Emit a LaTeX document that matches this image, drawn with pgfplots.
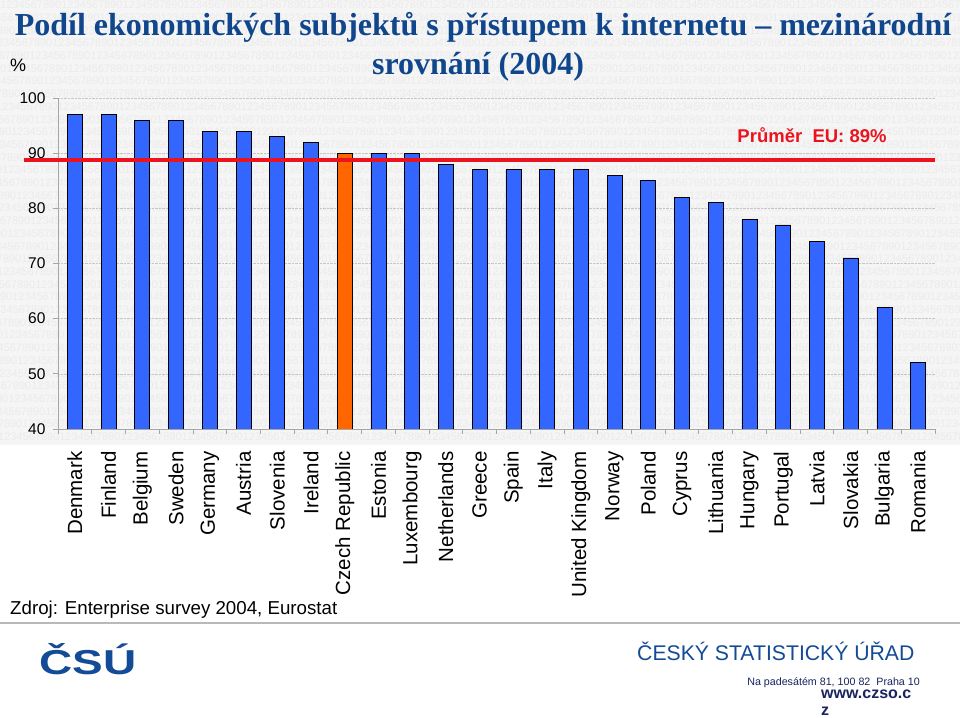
\documentclass[border=0pt]{standalone}
\usepackage{fontspec}
\usepackage{graphicx}
\setmainfont{Liberation Sans}
\newfontfamily\titlefont{Liberation Serif}
\usepackage{pgfplots}
\pgfplotsset{compat=1.18}
\definecolor{barblue}{RGB}{51,102,255}
\definecolor{barorange}{RGB}{255,102,0}
\definecolor{eured}{RGB}{235,20,30}
\definecolor{titleblue}{RGB}{16,70,140}
\definecolor{csublue}{RGB}{20,75,150}
\definecolor{navy}{RGB}{25,35,95}
\definecolor{bgray}{RGB}{245,245,245}
\definecolor{wmgray}{RGB}{235,235,235}
\def\wm{1234567890}
\def\wmrow{\wm\wm\wm\wm\wm\wm\wm\wm\wm\wm\wm\wm\wm\wm\wm\wm\wm\wm}
\begin{document}
\begin{tikzpicture}
\useasboundingbox (0pt,0pt) rectangle (960pt,717pt);
\fill[white] (0pt,0pt) rectangle (960pt,717pt);
\begin{scope}
\clip (0pt,272pt) rectangle (960pt,717pt);
\fill[bgray] (0pt,272pt) rectangle (960pt,717pt);
\foreach \i in {0,...,35}{
  \pgfmathsetmacro{\xs}{-mod(\i*23,60)}
  \pgfmathsetmacro{\ys}{712-12.7*\i}
  \node[anchor=west,inner sep=0pt,text=wmgray,font=\fontsize{11}{11}\selectfont] at (\xs pt,\ys pt) {\wmrow};
}
\end{scope}
\draw[gray!55,line width=1.5pt] (0pt,94pt) -- (960pt,94pt);

\begin{axis}[
  at={(58pt,288pt)}, anchor=south west,
  width=877pt, height=331pt, scale only axis,
  xmin=-0.5, xmax=25.5, ymin=40, ymax=100,
  ytick={40,50,...,100},
  axis x line*=bottom, axis y line*=left,
  axis line style={gray!70, line width=0.8pt},
  tick align=outside,
  major tick length=5pt, minor tick length=5pt,
  tick style={gray!70, line width=0.8pt},
  ymajorgrids, grid style={densely dotted, gray!45, line width=0.6pt},
  xtick={0,...,25},
  major x tick style={draw=none},
  minor xtick={-0.5,0.5,1.5,2.5,3.5,4.5,5.5,6.5,7.5,8.5,9.5,10.5,11.5,12.5,13.5,14.5,15.5,16.5,17.5,18.5,19.5,20.5,21.5,22.5,23.5,24.5,25.5},
  xticklabels={Denmark,Finland,Belgium,Sweden,Germany,Austria,Slovenia,Ireland,Czech Republic,Estonia,Luxembourg,Netherlands,Greece,Spain,Italy,United Kingdom,Norway,Poland,Cyprus,Lithuania,Hungary,Portugal,Latvia,Slovakia,Bulgaria,Romania},
  xticklabel style={rotate=90, anchor=east, font=\fontsize{20.5}{21}\selectfont, xshift=-14pt},
  yticklabel style={font=\fontsize{15.5}{16}\selectfont, xshift=-4pt},
  /pgf/number format/assume math mode=true,
]
\addplot[ybar, bar width=15pt, bar shift=0pt, fill=barblue, draw=black, line width=0.7pt] coordinates {
(0,97) (1,97) (2,96) (3,96) (4,94) (5,94) (6,93) (7,92)
(9,90) (10,90) (11,88) (12,87) (13,87) (14,87) (15,87) (16,86)
(17,85) (18,82) (19,81) (20,78) (21,77) (22,74) (23,71) (24,62) (25,52)
};
\addplot[ybar, bar width=15pt, bar shift=0pt, fill=barorange, draw=black, line width=0.7pt] coordinates {(8,90)};
\end{axis}

\begin{axis}[
  at={(58pt,288pt)}, anchor=south west,
  width=877pt, height=331pt, scale only axis,
  xmin=-0.5, xmax=25.5, ymin=40, ymax=100,
  hide axis, clip=false,
]
\addplot[eured, line width=4pt] coordinates {(-1.5,88.7) (25.5,88.7)};
\end{axis}

\node[anchor=base, text=titleblue, font=\titlefont\bfseries\fontsize{32}{36}\selectfont, inner sep=0pt] at (483pt,681pt) {Podíl ekonomických subjektů s přístupem k internetu – mezinárodní};
\node[anchor=base, text=titleblue, font=\titlefont\bfseries\fontsize{32}{36}\selectfont, inner sep=0pt] at (478pt,642pt) {srovnání (2004)};
\node[anchor=base west, inner sep=0pt, font=\fontsize{18}{18}\selectfont] at (10pt,645pt) {\%};
\node[anchor=base, inner sep=0pt, text=eured, font=\bfseries\fontsize{18.5}{19}\selectfont] at (812pt,574pt) {Průměr\ \ EU: 89\%};
\node[anchor=base west, inner sep=0pt, font=\fontsize{18.7}{19}\selectfont] at (10pt,102pt) {Zdroj: Enterprise survey 2004, Eurostat};
\node[inner sep=0pt, text=csublue] at (88pt,58pt) {\resizebox{97pt}{31pt}{\bfseries ČSÚ}};
\node[anchor=base west, inner sep=0pt, text=csublue, font=\fontsize{21.2}{22}\selectfont] at (637pt,56.5pt) {ČESKÝ STATISTICKÝ ÚŘAD};
\node[anchor=base east, inner sep=0pt, text=navy, font=\fontsize{10.7}{11}\selectfont] at (920pt,32pt) {Na padesátém 81, 100 82\ \ Praha 10};
\node[anchor=base west, inner sep=0pt, text=navy, font=\bfseries\fontsize{16}{16}\selectfont] at (821pt,19pt) {www.czso.c};
\node[anchor=base west, inner sep=0pt, text=navy, font=\bfseries\fontsize{16}{16}\selectfont] at (821pt,1.5pt) {z};
\end{tikzpicture}
\end{document}
